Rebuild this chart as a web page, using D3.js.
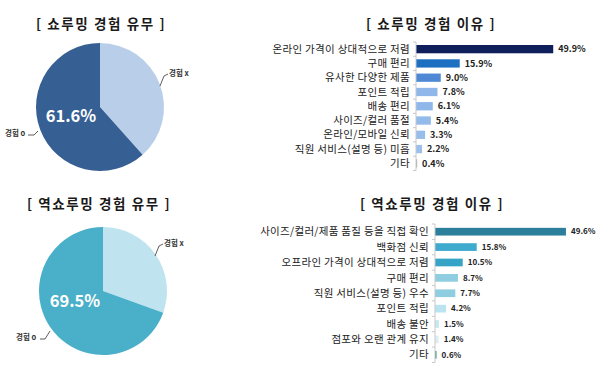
<html>
<head>
<meta charset="utf-8" />
<script src="https://d3js.org/d3.v7.min.js"></script>
<style>
  body { margin: 0; background: #fff; font-family: "Noto Sans CJK KR", "Noto Sans", sans-serif; }
</style>
</head>
<body>
<svg id="chart" width="598" height="370"></svg>
<script>
// pie data: [경험 x, 경험 o]
var pieLabels = ["경험 x", "경험 o"];
var showPie = [38.4, 61.6];
var reversePie = [30.5, 69.5];

// showrooming reasons
var showCats = ["온라인 가격이 상대적으로 저렴", "구매 편리", "유사한 다양한 제품", "포인트 적립", "배송 편리",
  "사이즈/컬러 품절", "온라인/모바일 신뢰", "직원 서비스(설명 등) 미흡", "기타"];
var showVals = [49.9, 15.9, 9.0, 7.8, 6.1, 5.4, 3.3, 2.2, 0.4];

// reverse showrooming reasons
var revCats = ["사이즈/컬러/제품 품질 등을 직접 확인", "백화점 신뢰", "오프라인 가격이 상대적으로 저렴", "구매 편리",
  "직원 서비스(설명 등) 우수", "포인트 적립", "배송 불안", "점포와 오랜 관계 유지", "기타"];
var revVals = [49.6, 15.8, 10.5, 8.7, 7.7, 4.2, 1.5, 1.4, 0.6];

var showColors = ["#0f1f5c", "#1d6fc1", "#4f89d6", "#8fb7ea", "#8fb7ea", "#92baeb", "#97bdeb", "#9cc0ec", "#b0b0b0"];
var revColors = ["#2b7f9b", "#3eaacd", "#35a4c7", "#8fcee1", "#8fcee1", "#b9e4f0", "#c6e8f0", "#dcf0f4", "#4f9f8a"];

var svg = d3.select("#chart");
var titleColor = "#1a1a1a";

function title(x, y, t) {
  svg.append("text")
    .attr("x", x).attr("y", y)
    .attr("text-anchor", "middle")
    .attr("font-size", "13.5px")
    .attr("font-weight", "bold")
    .attr("letter-spacing", "1.6px")
    .attr("fill", titleColor)
    .text(t);
}

title(101, 29, "[ 쇼루밍 경험 유무 ]");
title(431, 29, "[ 쇼루밍 경험 이유 ]");
title(99, 209, "[ 역쇼루밍 경험 유무 ]");
title(432, 209, "[ 역쇼루밍 경험 이유 ]");

function pieChart(cx, cy, r, vals, colors, pct, pctX, pctY, lblX, lblO) {
  var g = svg.append("g").attr("transform", "translate(" + cx + "," + cy + ")");
  var arcs = d3.pie().sort(null)(vals);
  var arc = d3.arc().innerRadius(0).outerRadius(r);
  g.selectAll("path").data(arcs).enter().append("path")
    .attr("d", arc)
    .attr("fill", function (d, i) { return colors[i]; });
  g.append("text")
    .attr("x", pctX).attr("y", pctY)
    .attr("text-anchor", "middle")
    .attr("font-size", "16.5px")
    .attr("font-weight", "bold")
    .attr("fill", "#fff")
    .text(pct + "%");
  // leader lines + labels
  [lblX, lblO].forEach(function (l, i) {
    svg.append("path")
      .attr("d", l.path)
      .attr("fill", "none")
      .attr("stroke", "#333")
      .attr("stroke-width", 0.8);
    svg.append("text")
      .attr("x", l.x).attr("y", l.y)
      .attr("font-size", "7.5px")
      .attr("font-weight", "bold")
      .attr("fill", "#333")
      .text(pieLabels[i]);
  });
}

pieChart(100, 107, 64, showPie, ["#b9cfe9", "#365f93"], showPie[1], -29, 15,
  { path: "M160,86 L164,76 L168,74", x: 169, y: 76 },
  { path: "M28,135 L34,135 L38,131", x: 5, y: 136 });

pieChart(103, 291, 64, reversePie, ["#bfe4ef", "#4aafc9"], reversePie[1], -28, 16,
  { path: "M155,256 L159,246 L163,244", x: 164, y: 246 },
  { path: "M40,339 L45,339 L50,331", x: 16, y: 340 });

function barChart(cats, vals, colors, x0, pxPerPct, y0, y1, pad, catSize, valSize) {
  var x = d3.scaleLinear().domain([0, 50]).range([x0, x0 + pxPerPct * 50]);
  var y = d3.scaleBand().domain(cats).range([y0, y1]).paddingInner(pad).paddingOuter(pad / 2);
  var data = cats.map(function (c, i) { return { c: c, v: vals[i], col: colors[i] }; });
  var g = svg.append("g");

  g.selectAll("rect").data(data).enter().append("rect")
    .attr("x", x(0))
    .attr("y", function (d) { return y(d.c); })
    .attr("width", function (d) { return Math.max(1.2, x(d.v) - x(0)); })
    .attr("height", y.bandwidth())
    .attr("fill", function (d) { return d.col; });

  // axis line with ticks between categories
  g.append("line")
    .attr("x1", x(0)).attr("x2", x(0))
    .attr("y1", y0).attr("y2", y1)
    .attr("stroke", "#c8c8c8");
  var bounds = d3.range(cats.length + 1).map(function (i) { return y0 + (y1 - y0) * i / cats.length; });
  g.selectAll("line.tk").data(bounds).enter().append("line")
    .attr("class", "tk")
    .attr("x1", x(0) - 3).attr("x2", x(0))
    .attr("y1", function (d) { return d; }).attr("y2", function (d) { return d; })
    .attr("stroke", "#c8c8c8");

  g.selectAll("text.cat").data(data).enter().append("text")
    .attr("class", "cat")
    .attr("x", x(0) - 6)
    .attr("y", function (d) { return y(d.c) + y.bandwidth() / 2; })
    .attr("dy", "0.35em")
    .attr("text-anchor", "end")
    .attr("font-size", catSize)
    .attr("letter-spacing", "0.3px")
    .attr("fill", "#222")
    .text(function (d) { return d.c; });

  g.selectAll("text.val").data(data).enter().append("text")
    .attr("class", "val")
    .attr("x", function (d) { return x(d.v) + 5; })
    .attr("y", function (d) { return y(d.c) + y.bandwidth() / 2; })
    .attr("dy", "0.35em")
    .attr("font-size", valSize)
    .attr("font-weight", "bold")
    .attr("fill", "#222")
    .text(function (d) { return d3.format(".1f")(d.v) + "%"; });
}

barChart(showCats, showVals, showColors, 416, 2.75, 42, 170.5, 0.42, "10.5px", "9px");
barChart(revCats, revVals, revColors, 435, 2.64, 224, 362.5, 0.5, "10.5px", "8px");
</script>
</body>
</html>
